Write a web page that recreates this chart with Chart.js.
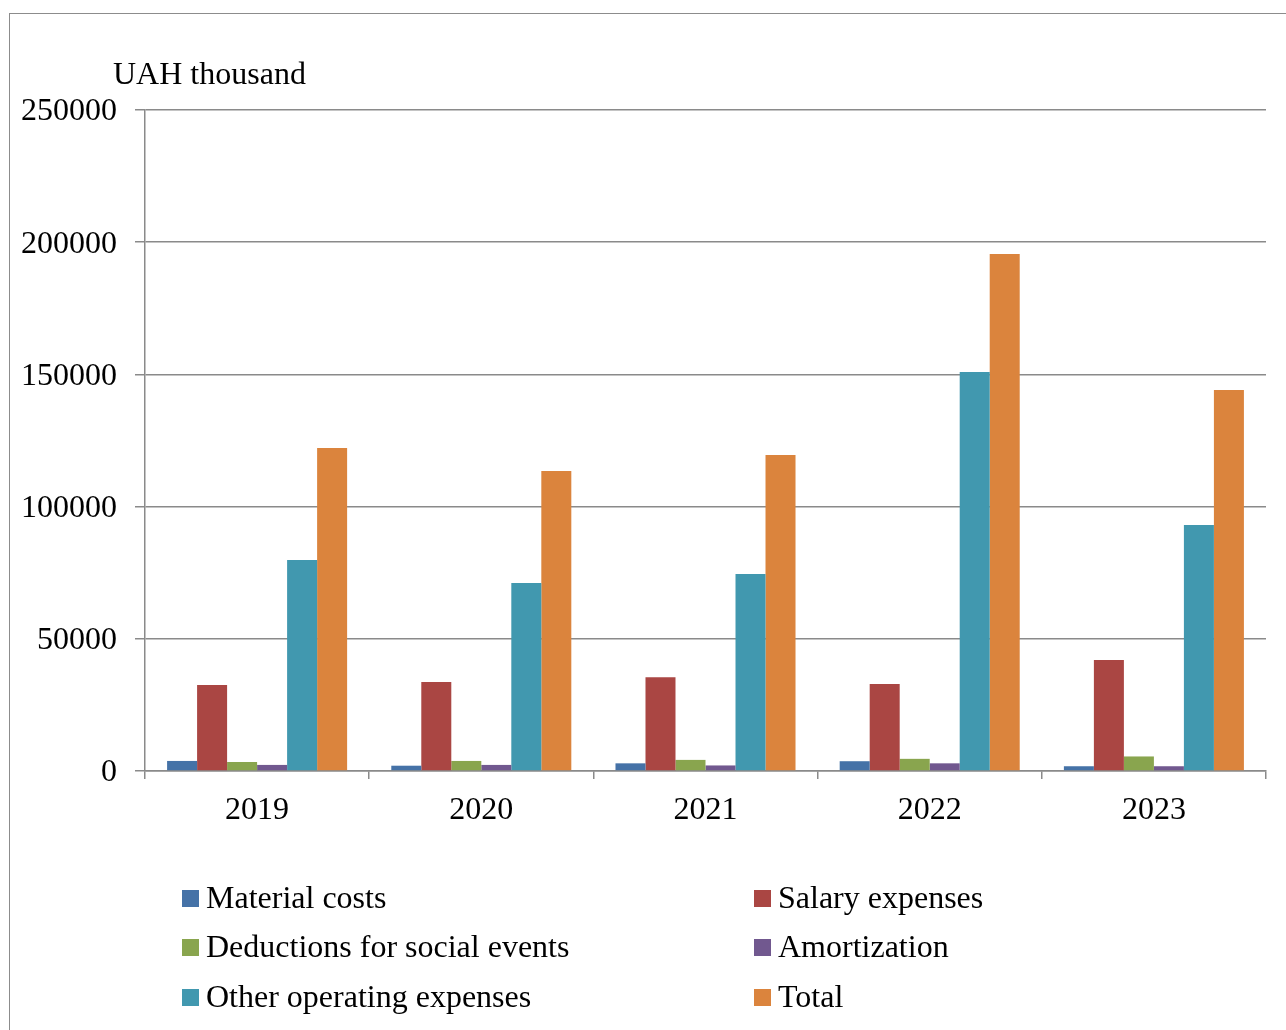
<!DOCTYPE html>
<html>
<head>
<meta charset="utf-8">
<script src="https://cdn.jsdelivr.net/npm/chart.js@4/dist/chart.umd.min.js"></script>
<style>
    body { margin: 0; background: #fff; font-family: "Liberation Serif", "Times New Roman", serif; }
    #wrap { position: relative; width: 1286px; height: 1030px; overflow: hidden; }
    #frame { position: absolute; left: 9px; top: 13px; width: 1400px; height: 1100px; border: 1.5px solid #8c8c8c; }
    #chart-box { position: absolute; left: 0; top: 0; width: 1286px; height: 1030px; }
    #unit { position: absolute; left: 113px; top: 55px; font-size: 32px; color: #000; }
    .legend-item { position: absolute; font-size: 32px; color: #000; white-space: nowrap; line-height: 36px; }
    .legend-item span { display: inline-block; width: 17px; height: 17px; margin-right: 7px; vertical-align: 1px; }
</style>
</head>
<body>
<div id="wrap">
    <div id="frame"></div>
    <div id="chart-box"><canvas id="costs"></canvas></div>
    <div id="unit">UAH thousand</div>
    <div id="legend"></div>
</div>
<script>
const years = ["2019", "2020", "2021", "2022", "2023"];
const seriesNames = ["Material costs", "Salary expenses", "Deductions for social events", "Amortization", "Other operating expenses", "Total"];
const seriesColors = ["#4572A7", "#AA4643", "#89A54E", "#71588F", "#4198AF", "#DB843D"];

const materialCosts = [3800, 2000, 2900, 3700, 1800];
const salaryExpenses = [32500, 33700, 35500, 32900, 42000];
const socialDeductions = [3400, 3800, 4200, 4600, 5500];
const amortization = [2300, 2300, 2100, 2900, 1800];
const otherExpenses = [79800, 71100, 74500, 150900, 93000];
const totalExpenses = [122200, 113500, 119500, 195500, 144100];

const yTicks = [0, 50000, 100000, 150000, 200000, 250000];

const seriesValues = [materialCosts, salaryExpenses, socialDeductions, amortization, otherExpenses, totalExpenses];
const font = {family: "'Liberation Serif', 'Times New Roman', serif", size: 32};
const axisGray = "#8a8a8a";

const chart = new Chart(document.getElementById("costs"), {
    type: "bar",
    data: {
        labels: years,
        datasets: seriesNames.map((name, i) => ({
            label: name,
            data: seriesValues[i],
            backgroundColor: seriesColors[i],
            barPercentage: 1,
            categoryPercentage: 0.803,
        })),
    },
    options: {
        responsive: true,
        maintainAspectRatio: false,
        animation: false,
        layout: {
            padding: {left: 0, right: 20, top: 110, bottom: 199},
        },
        plugins: {
            legend: {display: false},
            tooltip: {enabled: false},
        },
        scales: {
            x: {
                afterFit: (scale) => { scale.height = 60; },
                grid: {
                    drawOnChartArea: false,
                    drawTicks: true,
                    tickLength: 8,
                    color: axisGray,
                    lineWidth: 1.5,
                },
                border: {color: axisGray, width: 1.5},
                ticks: {color: "#000", font: font, padding: 12, maxRotation: 0},
            },
            y: {
                min: 0,
                max: 250000,
                afterFit: (scale) => { scale.width = 145; },
                afterBuildTicks: (scale) => { scale.ticks = yTicks.map(v => ({value: v})); },
                grid: {
                    color: axisGray,
                    lineWidth: 1.5,
                    tickLength: 10,
                },
                border: {color: axisGray, width: 1.5},
                ticks: {
                    color: "#000",
                    font: font,
                    padding: 18,
                    labelOffset: 2,
                    callback: (value) => String(value),
                },
            },
        },
    },
});

// legend in two columns, built from the chart datasets
const legendElement = document.getElementById("legend");
const legendCols = [182, 754];
const legendRows = [879, 928, 978];
chart.data.datasets.forEach((dataset, i) => {
    const item = document.createElement("div");
    item.className = "legend-item";
    item.style.left = legendCols[i % 2] + "px";
    item.style.top = legendRows[Math.floor(i / 2)] + "px";
    const box = document.createElement("span");
    box.style.background = dataset.backgroundColor;
    item.appendChild(box);
    item.appendChild(document.createTextNode(dataset.label));
    legendElement.appendChild(item);
});
</script>
</body>
</html>
